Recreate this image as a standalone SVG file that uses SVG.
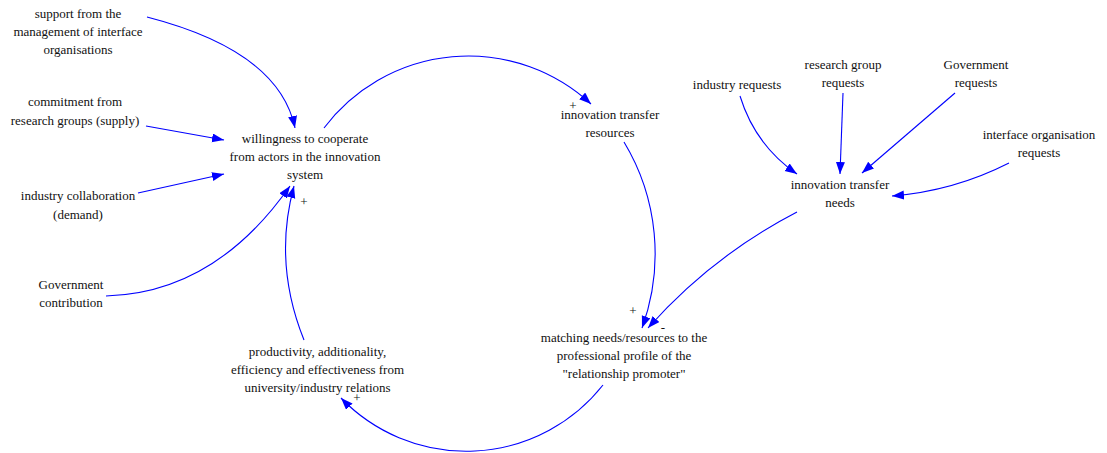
<svg xmlns="http://www.w3.org/2000/svg" width="1107" height="453" viewBox="0 0 1107 453">
<style>
text{font-family:'Liberation Serif','Times New Roman','DejaVu Serif',serif;font-size:13px;fill:#111;text-anchor:middle}
.c{fill:none;stroke:#0000ff;stroke-width:1.1;marker-end:url(#ah)}
</style>
<defs>
<marker id="ah" markerUnits="userSpaceOnUse" markerWidth="13" markerHeight="10" refX="12" refY="4.5" orient="auto">
<path d="M0,0 L12,4.5 L0,9 z" fill="#0000ff"/>
</marker>
</defs>
<rect width="1107" height="453" fill="#fff"/>
<g id="connectors">
<path class="c" d="M147,17 Q279,51 295,128"/>
<path class="c" d="M146,126 L224,140"/>
<path class="c" d="M138,193 L224,174"/>
<path class="c" d="M106,296 Q215,293 290,186"/>
<path class="c" d="M304,340 Q273,263 294,186"/>
<path class="c" d="M324,128 A180.7,180.7 0 0 1 591,104"/>
<path class="c" d="M624,142 A216.2,216.2 0 0 1 642,328"/>
<path class="c" d="M797,212 Q712,256 648,328"/>
<path class="c" d="M603,385 A174.1,174.1 0 0 1 341,398"/>
<path class="c" d="M740,96 Q755,145 797,174"/>
<path class="c" d="M843,93 L840,174"/>
<path class="c" d="M955,93 L862,173"/>
<path class="c" d="M1009,163 Q954,191 892,196"/>
</g>
<g id="polarities" font-family="Liberation Serif, serif">
<text x="304" y="205.5">+</text>
<text x="573" y="110">+</text>
<text x="633" y="314.5">+</text>
<text x="663" y="331.5">-</text>
<text x="357" y="401.5">+</text>
</g>
<g id="n_support"><text x="78" y="17.5">support from the</text><text x="78" y="35.8">management of interface</text><text x="78" y="54.1">organisations</text></g>
<g id="n_commitment"><text x="75" y="106">commitment from</text><text x="75" y="125">research groups (supply)</text></g>
<g id="n_willingness"><text x="305" y="142.5">willingness to cooperate</text><text x="305" y="160.8">from actors in the innovation</text><text x="305" y="179.1">system</text></g>
<g id="n_industry_collab"><text x="78" y="200">industry collaboration</text><text x="78" y="218.5">(demand)</text></g>
<g id="n_gov_contribution"><text x="71" y="288.5">Government</text><text x="71" y="307">contribution</text></g>
<g id="n_productivity"><text x="317.5" y="356">productivity, additionality,</text><text x="317.5" y="374">efficiency and effectiveness from</text><text x="317.5" y="392">university/industry relations</text></g>
<g id="n_resources"><text x="610" y="118.5">innovation transfer</text><text x="610" y="137">resources</text></g>
<g id="n_industry_requests"><text x="737" y="88.5">industry requests</text></g>
<g id="n_research_requests"><text x="843" y="68.5">research group</text><text x="843" y="87">requests</text></g>
<g id="n_gov_requests"><text x="976" y="68.5">Government</text><text x="976" y="87">requests</text></g>
<g id="n_interface_requests"><text x="1039" y="138.5">interface organisation</text><text x="1039" y="157">requests</text></g>
<g id="n_needs"><text x="840" y="188.5">innovation transfer</text><text x="840" y="207">needs</text></g>
<g id="n_matching"><text x="624" y="342">matching needs/resources to the</text><text x="624" y="360">professional profile of the</text><text x="624" y="378.3">"relationship promoter"</text></g>
</svg>
